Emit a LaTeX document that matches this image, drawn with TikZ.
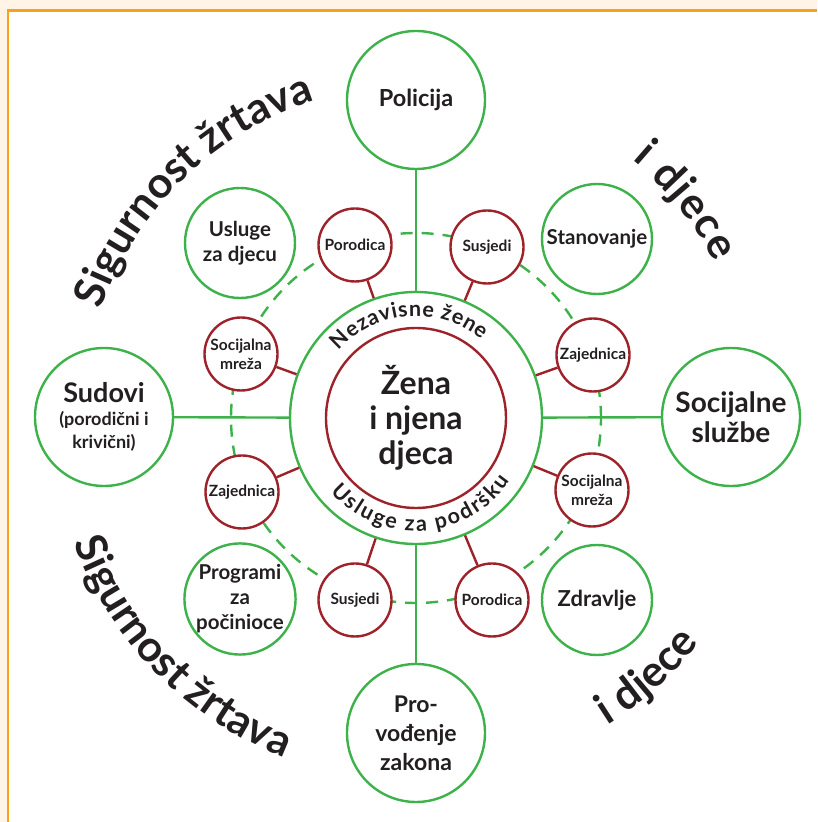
\documentclass[tikz,border=0pt]{standalone}
\usepackage{fontspec}
\setmainfont{Lato}
\usetikzlibrary{decorations.text,calc}
\definecolor{gr}{RGB}{62,178,74}
\definecolor{rd}{RGB}{158,34,42}
\definecolor{ink}{RGB}{35,31,32}
\definecolor{cream}{RGB}{255,244,229}
\definecolor{framec}{RGB}{247,162,27}
\newcommand\bigarcfont{\fontsize{43}{43}\selectfont\bfseries\color{ink}}
\newcommand\ringfont{\fontsize{21.5}{21.5}\selectfont\bfseries\color{ink}}
\newcommand\smfont{\fontsize{18}{20}\selectfont}
\begin{document}
\begin{tikzpicture}[x=1pt,y=1pt,
  bigc/.style={circle,draw=gr,line width=2.4pt,fill=white,minimum size=138pt,inner sep=0pt,align=center,text=ink,font=\bfseries\fontsize{23.5}{28}\selectfont},
  midc/.style={circle,draw=gr,line width=2.4pt,fill=white,minimum size=110pt,inner sep=0pt,align=center,text=ink,font=\bfseries\fontsize{20.5}{25}\selectfont},
  smallc/.style={circle,draw=rd,line width=2.4pt,fill=white,minimum size=73pt,inner sep=0pt,align=center,text=ink,font=\bfseries\fontsize{15.5}{19}\selectfont},
  gline/.style={draw=gr,line width=2.4pt},
  rline/.style={draw=rd,line width=2.4pt},
  arctext/.style={decorate,decoration={text along path,text align={fit to path},text={#1}}}
]
\useasboundingbox (0,0) rectangle (817,822);
\fill[cream] (0,0) rectangle (817,822);
\fill[white] (8,0) rectangle (817,811.5);
\draw[framec,line width=2.6pt] (8,0) -- (8,811.5) -- (817,811.5);

\coordinate (C) at (416,404);
% dashed circle
\draw[gr,line width=2.4pt,dash pattern=on 12pt off 9pt] (C) circle (185);

% central rings
\node[circle,draw=gr,line width=2.4pt,fill=white,minimum size=252pt,inner sep=0pt] (ring) at (C) {};
\node[circle,draw=rd,line width=2.4pt,fill=white,minimum size=180pt,inner sep=0pt,align=center,text=ink,font=\bfseries\fontsize{32}{35}\selectfont] (core) at (C) {Žena\\i njena\\djeca};

% big circles
\node[bigc] (pol) at (416,722) {Policija};
\node[bigc,font=\bfseries\fontsize{27}{30}\selectfont] (sud) at (104,405) {Sudovi\\[-7pt]\smfont(porodični i\\[-7pt]\smfont krivični)};
\node[bigc,font=\bfseries\fontsize{28}{30}\selectfont] (soc) at (731,405) {Socijalne\\službe};
\node[bigc,font=\bfseries\fontsize{23}{29}\selectfont] (pro) at (416,89) {Pro-\\vođenje\\zakona};

% medium circles
\node[midc] (usl) at (240,579) {Usluge\\za djecu};
\node[midc] (sta) at (597,583) {Stanovanje};
\node[midc] (prg) at (240,223) {Programi\\za\\počinioce};
\node[midc,font=\bfseries\fontsize{22}{24}\selectfont] (zdr) at (597,222) {Zdravlje};

% small circles
\node[smallc] (porT) at (355,577) {Porodica};
\node[smallc] (susT) at (487,575) {Susjedi};
\node[smallc] (smL) at (241,468) {Socijalna\\mreža};
\node[smallc] (zajR) at (593,467) {Zajednica};
\node[smallc] (zajL) at (242,330) {Zajednica};
\node[smallc] (smR) at (592,332) {Socijalna\\mreža};
\node[smallc] (susB) at (355,222) {Susjedi};
\node[smallc] (porB) at (492,222) {Porodica};

% green spokes
\foreach \n in {pol,sud,soc,pro} \draw[gline] (\n) -- (ring);
% red spokes
\foreach \n in {porT,susT,smL,zajR,zajL,smR,susB,porB} \draw[rline] (\n) -- (ring);

% ring texts
\path[arctext={|\ringfont|Nezavisne žene}] ($(C)+(139:102)$) arc[start angle=139,end angle=50,radius=102];
\path[arctext={|\ringfont|Usluge za podršku}] ($(C)+(221:113)$) arc[start angle=221,end angle=326,radius=113];

% outer arc texts
\path[arctext={|\bigarcfont|Sigurnost žrtava}] ($(C)+(161:333)$) arc[start angle=161,end angle=108,radius=333];
\path[arctext={|\bigarcfont|i djece}] ($(C)+(50:337)$) arc[start angle=50,end angle=27.5,radius=337];
\path[arctext={|\bigarcfont|Sigurnost žrtava}] ($(C)+(200:364)$) arc[start angle=200,end angle=248.5,radius=364];
\path[arctext={|\bigarcfont|i djece}] ($(C)+(302:362)$) arc[start angle=302,end angle=321.5,radius=362];
\end{tikzpicture}
\end{document}
